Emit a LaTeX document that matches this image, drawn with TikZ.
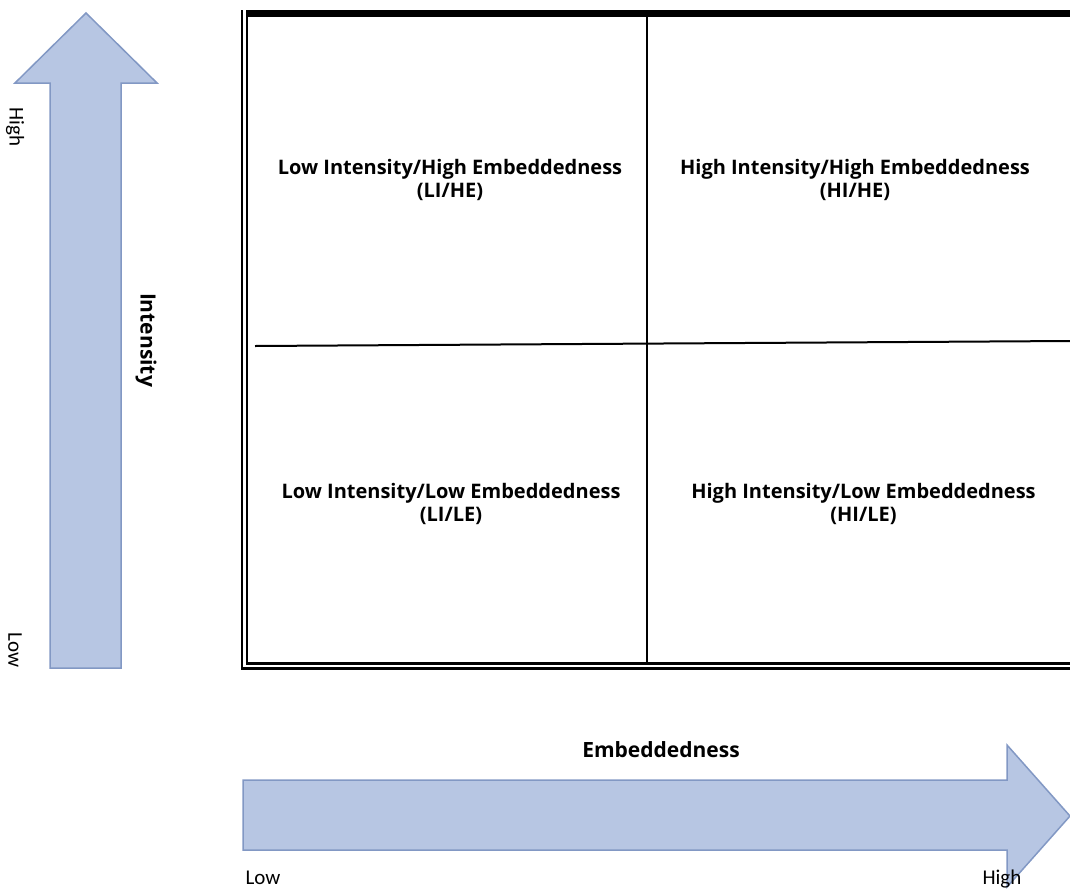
\documentclass[tikz,border=0pt]{standalone}
\usepackage{fontspec}
\setmainfont{Carlito}
\newfontfamily\quadfont{Open Sans}
\usetikzlibrary{positioning}
\definecolor{arrowfill}{RGB}{183, 198, 227}
\definecolor{arrowedge}{RGB}{130, 152, 196}
\tikzset{
  axisarrow/.style={fill=arrowfill, draw=arrowedge, line width=1.5pt, line join=miter},
  quadlabel/.style={font=\quadfont\bfseries\fontsize{20}{23}\selectfont, align=center},
  axistitle/.style={font=\quadfont\bfseries\fontsize{21}{25}\selectfont},
  endlabel/.style={font=\fontsize{21}{25}\selectfont, inner sep=0pt}
}

\begin{document}
\begin{tikzpicture}[x=1pt, y=-1pt]
  \useasboundingbox (0,0) rectangle (1070,889);

  % Vertical axis arrow
  \draw[axisarrow] (50,668) -- (50,83) -- (15,83) -- (86,13) -- (157,83) -- (121,83) -- (121,668) -- cycle;
  \node[endlabel, rotate=-90] (ihigh) at (15,127) {High};
  \node[endlabel, rotate=-90] (ilow) at (15,650) {Low};
  \node[axistitle, rotate=-90] (intensity) at (146,340) {Intensity};

  % Horizontal axis arrow
  \draw[axisarrow] (243,780) -- (1007,780) -- (1007,745) -- (1070,816) -- (1007,887) -- (1007,850) -- (243,850) -- cycle;
  \node[axistitle] (embed) at (661,750) {Embeddedness};
  \node[endlabel, anchor=base] (elow) at (263,884) {Low};
  \node[endlabel, anchor=base] (ehigh) at (1002,884) {High};

  % Matrix frame
  \draw[line width=7pt] (241,13.5) -- (1075,13.5);
  \draw[line width=2.6pt, double=white, double distance=2.2pt] (244.5,10) -- (244.5,666) -- (1075,666);
  \coordinate (ctop) at (647,17);
  \coordinate (cbot) at (647,663);
  \coordinate (mleft) at (255,346);
  \coordinate (mright) at (1070,341);
  \draw[line width=2pt] (ctop) -- (cbot);
  \draw[line width=2pt] (mleft) -- (mright);

  % Quadrants
  \node[quadlabel] (lihe) at (450,179.5) {Low Intensity/High Embeddedness\\(LI/HE)};
  \node[quadlabel] (hihe) at (855,179.5) {High Intensity/High Embeddedness\\(HI/HE)};
  \node[quadlabel] (lile) at (451,503.5) {Low Intensity/Low Embeddedness\\(LI/LE)};
  \node[quadlabel] (hile) at (863.5,503.5) {High Intensity/Low Embeddedness\\(HI/LE)};
\end{tikzpicture}
\end{document}
